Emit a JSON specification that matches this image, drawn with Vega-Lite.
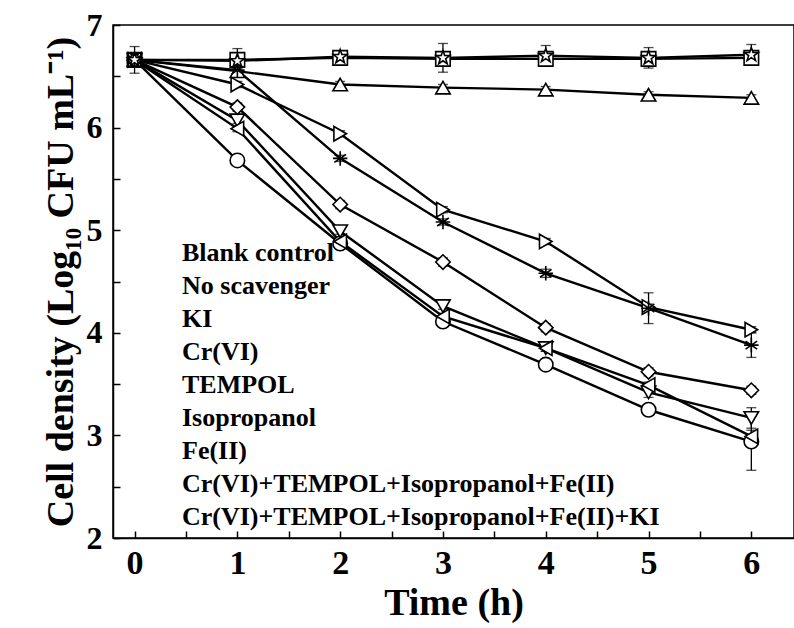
{
  "$schema": "https://vega.github.io/schema/vega-lite/v6.json",
  "autosize": {"type": "none"},
  "padding": {"left": 113, "top": 25, "right": 0, "bottom": 90},
  "width": 681,
  "height": 513,
  "background": "white",
  "config": {
    "view": {"stroke": "black", "strokeWidth": 1.5}
  },
  "data": {"values": [
      {"series": "Blank control", "time": 0, "value": 6.66, "err": 0.04},
      {"series": "Blank control", "time": 1, "value": 6.66, "err": 0.04},
      {"series": "Blank control", "time": 2, "value": 6.68, "err": 0.04},
      {"series": "Blank control", "time": 3, "value": 6.67, "err": 0.04},
      {"series": "Blank control", "time": 4, "value": 6.67, "err": 0.04},
      {"series": "Blank control", "time": 5, "value": 6.67, "err": 0.04},
      {"series": "Blank control", "time": 6, "value": 6.68, "err": 0.04},
      {"series": "No scavenger", "time": 0, "value": 6.66, "err": 0},
      {"series": "No scavenger", "time": 1, "value": 5.68, "err": 0.04},
      {"series": "No scavenger", "time": 2, "value": 4.87, "err": 0.04},
      {"series": "No scavenger", "time": 3, "value": 4.11, "err": 0.04},
      {"series": "No scavenger", "time": 4, "value": 3.69, "err": 0.04},
      {"series": "No scavenger", "time": 5, "value": 3.25, "err": 0.05},
      {"series": "No scavenger", "time": 6, "value": 2.94, "err": 0.28},
      {"series": "KI", "time": 0, "value": 6.66, "err": 0},
      {"series": "KI", "time": 1, "value": 6.55, "err": 0.03},
      {"series": "KI", "time": 2, "value": 6.42, "err": 0.03},
      {"series": "KI", "time": 3, "value": 6.39, "err": 0.03},
      {"series": "KI", "time": 4, "value": 6.37, "err": 0.03},
      {"series": "KI", "time": 5, "value": 6.32, "err": 0.03},
      {"series": "KI", "time": 6, "value": 6.29, "err": 0.03},
      {"series": "Cr(VI)", "time": 0, "value": 6.66, "err": 0},
      {"series": "Cr(VI)", "time": 1, "value": 6.07, "err": 0.03},
      {"series": "Cr(VI)", "time": 2, "value": 4.99, "err": 0.03},
      {"series": "Cr(VI)", "time": 3, "value": 4.26, "err": 0.03},
      {"series": "Cr(VI)", "time": 4, "value": 3.85, "err": 0.03},
      {"series": "Cr(VI)", "time": 5, "value": 3.42, "err": 0.05},
      {"series": "Cr(VI)", "time": 6, "value": 3.17, "err": 0.1},
      {"series": "TEMPOL", "time": 0, "value": 6.66, "err": 0},
      {"series": "TEMPOL", "time": 1, "value": 5.99, "err": 0.03},
      {"series": "TEMPOL", "time": 2, "value": 4.89, "err": 0.03},
      {"series": "TEMPOL", "time": 3, "value": 4.16, "err": 0.03},
      {"series": "TEMPOL", "time": 4, "value": 3.85, "err": 0.03},
      {"series": "TEMPOL", "time": 5, "value": 3.49, "err": 0.03},
      {"series": "TEMPOL", "time": 6, "value": 2.99, "err": 0.06},
      {"series": "Isopropanol", "time": 0, "value": 6.66, "err": 0},
      {"series": "Isopropanol", "time": 1, "value": 6.42, "err": 0.03},
      {"series": "Isopropanol", "time": 2, "value": 5.94, "err": 0.03},
      {"series": "Isopropanol", "time": 3, "value": 5.2, "err": 0.03},
      {"series": "Isopropanol", "time": 4, "value": 4.89, "err": 0.03},
      {"series": "Isopropanol", "time": 5, "value": 4.25, "err": 0.03},
      {"series": "Isopropanol", "time": 6, "value": 4.03, "err": 0.03},
      {"series": "Fe(II)", "time": 0, "value": 6.66, "err": 0},
      {"series": "Fe(II)", "time": 1, "value": 6.2, "err": 0.04},
      {"series": "Fe(II)", "time": 2, "value": 5.25, "err": 0.04},
      {"series": "Fe(II)", "time": 3, "value": 4.69, "err": 0.04},
      {"series": "Fe(II)", "time": 4, "value": 4.05, "err": 0.04},
      {"series": "Fe(II)", "time": 5, "value": 3.62, "err": 0.04},
      {"series": "Fe(II)", "time": 6, "value": 3.44, "err": 0.04},
      {"series": "Cr(VI)+TEMPOL+Isopropanol+Fe(II)", "time": 0, "value": 6.66, "err": 0},
      {"series": "Cr(VI)+TEMPOL+Isopropanol+Fe(II)", "time": 1, "value": 6.56, "err": 0.03},
      {"series": "Cr(VI)+TEMPOL+Isopropanol+Fe(II)", "time": 2, "value": 5.7, "err": 0.03},
      {"series": "Cr(VI)+TEMPOL+Isopropanol+Fe(II)", "time": 3, "value": 5.08, "err": 0.03},
      {"series": "Cr(VI)+TEMPOL+Isopropanol+Fe(II)", "time": 4, "value": 4.58, "err": 0.04},
      {"series": "Cr(VI)+TEMPOL+Isopropanol+Fe(II)", "time": 5, "value": 4.24, "err": 0.15},
      {"series": "Cr(VI)+TEMPOL+Isopropanol+Fe(II)", "time": 6, "value": 3.88, "err": 0.12},
      {"series": "Cr(VI)+TEMPOL+Isopropanol+Fe(II)+KI", "time": 0, "value": 6.66, "err": 0.13},
      {"series": "Cr(VI)+TEMPOL+Isopropanol+Fe(II)+KI", "time": 1, "value": 6.65, "err": 0.12},
      {"series": "Cr(VI)+TEMPOL+Isopropanol+Fe(II)+KI", "time": 2, "value": 6.69, "err": 0.05},
      {"series": "Cr(VI)+TEMPOL+Isopropanol+Fe(II)+KI", "time": 3, "value": 6.68, "err": 0.14},
      {"series": "Cr(VI)+TEMPOL+Isopropanol+Fe(II)+KI", "time": 4, "value": 6.7, "err": 0.1},
      {"series": "Cr(VI)+TEMPOL+Isopropanol+Fe(II)+KI", "time": 5, "value": 6.68, "err": 0.1},
      {"series": "Cr(VI)+TEMPOL+Isopropanol+Fe(II)+KI", "time": 6, "value": 6.71, "err": 0.1}
  ]},
  "layer": [
    {
      "mark": {"type": "line", "color": "black", "strokeWidth": 2.4},
      "encoding": {
        "x": {
          "field": "time", "type": "quantitative", "title": "Time (h)",
          "scale": {"domain": [-0.21, 6.415], "nice": false, "zero": false},
          "axis": {
            "values": [0, 0.5, 1, 1.5, 2, 2.5, 3, 3.5, 4, 4.5, 5, 5.5, 6],
            "labelExpr": "datum.value % 1 === 0 ? format(datum.value, 'd') : ''",
            "grid": false,
            "tickSize": -7, "tickWidth": 1.5, "tickColor": "black",
            "domainColor": "black", "domainWidth": 1.5,
            "labelFont": "Liberation Serif", "labelFontWeight": "bold", "labelFontSize": 34, "labelColor": "black",
            "labelPadding": 15, "labelFlush": false, "labelOverlap": false,
            "titleFont": "Liberation Serif", "titleFontWeight": "bold", "titleFontSize": 38, "titleColor": "black",
            "titlePadding": 4
          }
        },
        "y": {
          "field": "value", "type": "quantitative", "title": "Cell density (Log₁₀ CFU mL⁻¹)",
          "scale": {"domain": [2, 7], "nice": false, "zero": false},
          "axis": {
            "values": [2, 2.5, 3, 3.5, 4, 4.5, 5, 5.5, 6, 6.5, 7],
            "labelExpr": "datum.value % 1 === 0 ? format(datum.value, 'd') : ''",
            "grid": false,
            "tickSize": -7, "tickWidth": 1.5, "tickColor": "black",
            "domainColor": "black", "domainWidth": 1.5,
            "labelFont": "Liberation Serif", "labelFontWeight": "bold", "labelFontSize": 32, "labelColor": "black",
            "labelPadding": 18, "labelFlush": false, "labelOverlap": false,
            "titleFont": "Liberation Serif", "titleFontWeight": "bold", "titleFontSize": 38, "titleColor": "black",
            "titlePadding": 6
          }
        },
        "detail": {"field": "series", "type": "nominal"}
      }
    },
    {
      "transform": [{"filter": "datum.err > 0"}],
      "mark": {"type": "errorbar", "color": "black", "thickness": 1.3, "ticks": {"size": 10, "color": "black"}},
      "encoding": {
        "x": {"field": "time", "type": "quantitative", "title": "Time (h)"},
        "y": {"field": "value", "type": "quantitative", "title": "Cell density (Log₁₀ CFU mL⁻¹)"},
        "yError": {"field": "err"}
      }
    },
    {
      "mark": {"type": "point", "filled": true, "fill": "white", "stroke": "black", "strokeWidth": 1.6, "size": 210, "opacity": 1},
      "encoding": {
        "x": {"field": "time", "type": "quantitative", "title": "Time (h)"},
        "y": {"field": "value", "type": "quantitative", "title": "Cell density (Log₁₀ CFU mL⁻¹)"},
        "shape": {
          "field": "series", "type": "nominal", "legend": null,
          "scale": {
            "domain": ["Blank control", "No scavenger", "KI", "Cr(VI)", "TEMPOL", "Isopropanol", "Fe(II)", "Cr(VI)+TEMPOL+Isopropanol+Fe(II)", "Cr(VI)+TEMPOL+Isopropanol+Fe(II)+KI"],
            "range": ["square", "circle", "triangle-up", "triangle-down", "triangle-left", "triangle-right", "diamond",
              "M0,-1L0,1M-1,0L1,0M-0.8,-0.55L0.8,0.55M-0.8,0.55L0.8,-0.55",
              "M0,-1L0.235,-0.324L0.951,-0.309L0.38,0.124L0.588,0.809L0,0.4L-0.588,0.809L-0.38,0.124L-0.951,-0.309L-0.235,-0.324Z"]
          }
        }
      }
    },
    {
      "mark": {"type": "point", "filled": true, "fill": "white", "stroke": "black", "strokeWidth": 2, "opacity": 0},
      "encoding": {
        "x": {"field": "time", "type": "quantitative", "title": "Time (h)"},
        "y": {"field": "value", "type": "quantitative", "title": "Cell density (Log₁₀ CFU mL⁻¹)"},
        "shape": {
          "field": "series", "type": "nominal",
          "scale": {
            "domain": ["Blank control", "No scavenger", "KI", "Cr(VI)", "TEMPOL", "Isopropanol", "Fe(II)", "Cr(VI)+TEMPOL+Isopropanol+Fe(II)", "Cr(VI)+TEMPOL+Isopropanol+Fe(II)+KI"],
            "range": [
              "M-2.9,0L-0.75,0M0.75,0L2.9,0M-0.75,-0.7L0.75,-0.7L0.75,0.7L-0.75,0.7Z",
              "M-2.9,0L-0.75,0M0.75,0L2.9,0M0.75,0L0.693,0.287L0.53,0.53L0.287,0.693L0,0.75L-0.287,0.693L-0.53,0.53L-0.693,0.287L-0.75,0L-0.693,-0.287L-0.53,-0.53L-0.287,-0.693L0,-0.75L0.287,-0.693L0.53,-0.53L0.693,-0.287Z",
              "M-2.9,0L-0.483,0M0.483,0L2.9,0M0,-0.87L0.9,0.75L-0.9,0.75Z",
              "M-2.9,0L-0.483,0M0.483,0L2.9,0M0,0.87L0.9,-0.75L-0.9,-0.75Z",
              "M-2.9,0L-0.87,0M0.75,0L2.9,0M-0.87,0L0.75,-0.9L0.75,0.9Z",
              "M-2.9,0L-0.75,0M0.87,0L2.9,0M0.87,0L-0.75,-0.9L-0.75,0.9Z",
              "M-2.9,0L-0.85,0M0.85,0L2.9,0M0,-0.85L0.85,0L0,0.85L-0.85,0Z",
              "M-2.9,0L2.9,0M0,-0.85L0,0.85M-0.75,-0.75L0.75,0.75M-0.75,0.75L0.75,-0.75",
              "M-2.9,0L-0.448,0M0.448,0L2.9,0M0,-0.82L0.194,-0.267L0.78,-0.253L0.314,0.102L0.482,0.663L0,0.33L-0.482,0.663L-0.314,0.102L-0.78,-0.253L-0.194,-0.267Z"
            ]
          },
          "legend": {
            "title": null, "orient": "none", "legendX": 24, "legendY": 215, "padding": 0,
            "symbolSize": 400, "symbolStrokeWidth": 2, "symbolFillColor": "white", "symbolStrokeColor": "black", "symbolOpacity": 1,
            "labelFont": "Liberation Serif", "labelFontWeight": "bold", "labelFontSize": 26, "labelColor": "black",
            "labelOffset": 19, "rowPadding": 7, "labelLimit": 600,
            "encode": {
              "symbols": {
                "update": {
                  "opacity": {"value": 1},
                  "fillOpacity": {"value": 1},
                  "strokeOpacity": {"value": 1},
                  "fill": {"value": "white"},
                  "stroke": {"value": "black"},
                  "strokeWidth": {"value": 2}
                }
              }
            }
          }
        }
      }
    }
  ],
  "resolve": {"scale": {"shape": "independent"}}
}
